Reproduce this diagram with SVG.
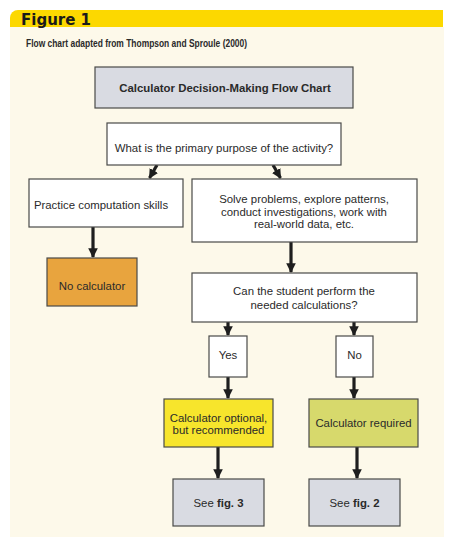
<svg xmlns="http://www.w3.org/2000/svg" width="454" height="539" viewBox="0 0 454 539">
<defs>
<style>
.box{stroke:#4a4a48;stroke-width:1.2}
.w{fill:#ffffff}
.g{fill:#d9dbe2}
.t{font-family:"Liberation Sans",Arial,sans-serif;font-size:11.4px;fill:#2a2a2a;text-anchor:middle}
.b{font-weight:bold}
.arr{stroke:#1e1e1e;stroke-width:3.2;fill:none}
</style>
<marker id="ah" viewBox="0 0 10 10" refX="9" refY="5" markerWidth="3" markerHeight="3" orient="auto" markerUnits="strokeWidth">
<path d="M0,0 L10,5 L0,10 z" fill="#1e1e1e"/>
</marker>
</defs>
<rect width="454" height="539" fill="#ffffff"/>
<rect x="10" y="27" width="434" height="510" fill="#fdf9ea"/>
<path d="M18,10 H443 V27 H10 V18 A8,8 0 0 1 18,10 z" fill="#fcd800"/>
<text x="21" y="24.5" font-family="DejaVu Sans,sans-serif" font-weight="bold" font-size="15" fill="#1a1a1a">Figure 1</text>
<text x="26" y="47" font-family="Liberation Sans,Arial,sans-serif" font-weight="bold" font-size="10.2" fill="#2a2a2a" textLength="221" lengthAdjust="spacingAndGlyphs">Flow chart adapted from Thompson and Sproule (2000)</text>

<g id="connectors">
<line class="arr" x1="157" y1="165" x2="149.5" y2="178" marker-end="url(#ah)"/>
<line class="arr" x1="273" y1="165" x2="280.5" y2="178" marker-end="url(#ah)"/>
<line class="arr" x1="93" y1="227" x2="93" y2="257" marker-end="url(#ah)"/>
<line class="arr" x1="291" y1="242" x2="291" y2="272" marker-end="url(#ah)"/>
<line class="arr" x1="228" y1="322" x2="228" y2="335" marker-end="url(#ah)"/>
<line class="arr" x1="354" y1="322" x2="354" y2="335" marker-end="url(#ah)"/>
<line class="arr" x1="228" y1="377" x2="228" y2="398" marker-end="url(#ah)"/>
<line class="arr" x1="354" y1="377" x2="354" y2="398" marker-end="url(#ah)"/>
<line class="arr" x1="218" y1="447" x2="218" y2="478" marker-end="url(#ah)"/>
<line class="arr" x1="357" y1="447" x2="357" y2="478" marker-end="url(#ah)"/>
</g>

<g id="title">
<rect class="box g" x="95" y="67" width="258" height="41"/>
<text class="t b" x="225" y="92" font-size="10.3">Calculator Decision-Making Flow Chart</text>
</g>
<g id="purpose">
<rect class="box w" x="107" y="123" width="234" height="42"/>
<text class="t" x="224" y="151.5">What is the primary purpose of the activity?</text>
</g>
<g id="practice">
<rect class="box w" x="29" y="179" width="154" height="48"/>
<text class="t" x="101" y="209">Practice computation skills</text>
</g>
<g id="solve">
<rect class="box w" x="192" y="179" width="225" height="63"/>
<text class="t" x="304" y="202.5">Solve problems, explore patterns,</text>
<text class="t" x="304" y="215.5">conduct investigations, work with</text>
<text class="t" x="304" y="227.5">real-world data, etc.</text>
</g>
<g id="nocalc">
<rect class="box" x="47" y="258" width="90" height="48" fill="#e8a43e"/>
<text class="t" x="92" y="290">No calculator</text>
</g>
<g id="can">
<rect class="box w" x="192" y="273" width="225" height="49"/>
<text class="t" x="304" y="295">Can the student perform the</text>
<text class="t" x="304" y="308.5">needed calculations?</text>
</g>
<g id="yes">
<rect class="box w" x="209" y="336" width="38" height="41"/>
<text class="t" x="228" y="358.5">Yes</text>
</g>
<g id="no">
<rect class="box w" x="336" y="336" width="37" height="41"/>
<text class="t" x="354.5" y="358.5">No</text>
</g>
<g id="optional">
<rect class="box" x="164" y="399" width="109" height="48" fill="#f7e52c"/>
<text class="t" x="218.5" y="421.5">Calculator optional,</text>
<text class="t" x="218.5" y="433.5">but recommended</text>
</g>
<g id="required">
<rect class="box" x="309" y="399" width="109" height="48" fill="#d7d96c"/>
<text class="t" x="363.5" y="427.3">Calculator required</text>
</g>
<g id="fig3">
<rect class="box g" x="173" y="479" width="91" height="47"/>
<text class="t" x="218.5" y="506.7">See <tspan class="b">fig. 3</tspan></text>
</g>
<g id="fig2">
<rect class="box g" x="309" y="479" width="91" height="47"/>
<text class="t" x="354.5" y="506.7">See <tspan class="b">fig. 2</tspan></text>
</g>
</svg>
